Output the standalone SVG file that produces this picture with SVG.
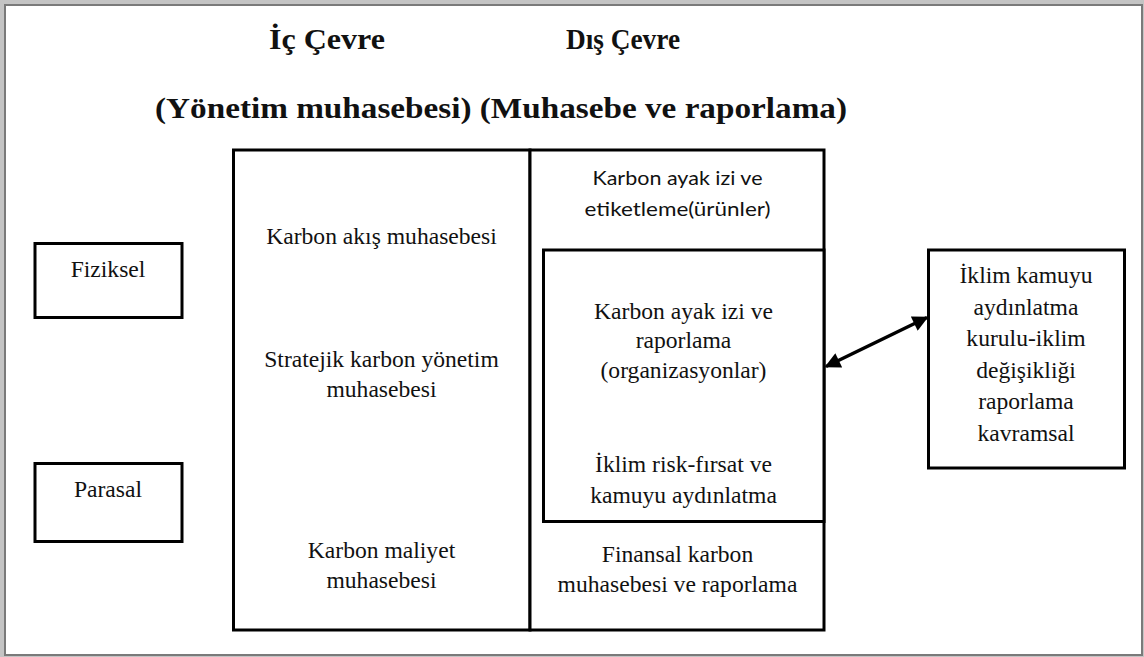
<svg xmlns="http://www.w3.org/2000/svg" width="1144" height="657" viewBox="0 0 1144 657">
<defs>
<style>
.frame{fill:#fff;stroke:#7a7a7a;stroke-width:2}
.box{fill:#fff;stroke:#000;stroke-width:3}
.t{font-family:"Liberation Serif","Times New Roman",serif;font-size:23.6px;fill:#111;text-anchor:middle}
.s{font-family:Lato,"Open Sans","Liberation Sans",sans-serif;font-size:19px;fill:#111;text-anchor:middle}
.h{font-family:"Liberation Serif","Times New Roman",serif;font-weight:bold;font-size:30px;fill:#111}
.conn{fill:none;stroke:#000;stroke-width:3.5}
</style>
<marker id="ah" viewBox="0 0 10 10" refX="9" refY="5" markerWidth="6" markerHeight="4.5" orient="auto-start-reverse" markerUnits="strokeWidth">
<path d="M0,0 L10,5 L0,10 z" fill="#000"/>
</marker>
</defs>
<rect x="0" y="0" width="1144" height="657" fill="#c4c4c4"/>
<rect class="frame" x="5" y="5" width="1137" height="650"/>
<g id="titles">
<text class="h" x="269" y="49" textLength="116" lengthAdjust="spacingAndGlyphs">İç Çevre</text>
<text class="h" x="566" y="49" textLength="114" lengthAdjust="spacingAndGlyphs">Dış Çevre</text>
<text class="h" x="155" y="118" textLength="692" lengthAdjust="spacingAndGlyphs">(Yönetim muhasebesi) (Muhasebe ve raporlama)</text>
</g>
<g id="fiziksel">
<rect class="box" x="35" y="243.5" width="147" height="74"/>
<text class="t" x="108" y="277">Fiziksel</text>
</g>
<g id="parasal">
<rect class="box" x="35" y="463.5" width="147" height="78"/>
<text class="t" x="108" y="497">Parasal</text>
</g>
<g id="ic-cevre">
<rect class="box" x="233.5" y="150" width="296.5" height="480"/>
<text class="t" x="381.5" y="244">Karbon akış muhasebesi</text>
<text class="t" x="381.5" y="367">Stratejik karbon yönetim</text>
<text class="t" x="381.5" y="397">muhasebesi</text>
<text class="t" x="381.5" y="558">Karbon maliyet</text>
<text class="t" x="381.5" y="588">muhasebesi</text>
</g>
<g id="dis-cevre">
<rect class="box" x="530" y="150" width="294" height="480"/>
<text class="s" x="677.5" y="185" textLength="170" lengthAdjust="spacingAndGlyphs">Karbon ayak izi ve</text>
<text class="s" x="677.5" y="216" textLength="186" lengthAdjust="spacingAndGlyphs">etiketleme(ürünler)</text>
<text class="t" x="677.5" y="562">Finansal karbon</text>
<text class="t" x="677.5" y="592">muhasebesi ve raporlama</text>
</g>
<g id="organizasyonlar">
<rect class="box" x="543.5" y="250" width="280.5" height="271.5"/>
<text class="t" x="683.5" y="319">Karbon ayak izi ve</text>
<text class="t" x="683.5" y="348">raporlama</text>
<text class="t" x="683.5" y="378">(organizasyonlar)</text>
<text class="t" x="683.5" y="472">İklim risk-fırsat ve</text>
<text class="t" x="683.5" y="503">kamuyu aydınlatma</text>
</g>
<g id="iklim-kurulu">
<rect class="box" x="928.5" y="250" width="196" height="218"/>
<text class="t" x="1026" y="283">İklim kamuyu</text>
<text class="t" x="1026" y="314.5">aydınlatma</text>
<text class="t" x="1026" y="346">kurulu-iklim</text>
<text class="t" x="1026" y="377.5">değişikliği</text>
<text class="t" x="1026" y="409">raporlama</text>
<text class="t" x="1026" y="440.5">kavramsal</text>
</g>
<g id="connectors">
<line class="conn" x1="826" y1="366.5" x2="927" y2="317.5" marker-start="url(#ah)" marker-end="url(#ah)"/>
</g>
</svg>
